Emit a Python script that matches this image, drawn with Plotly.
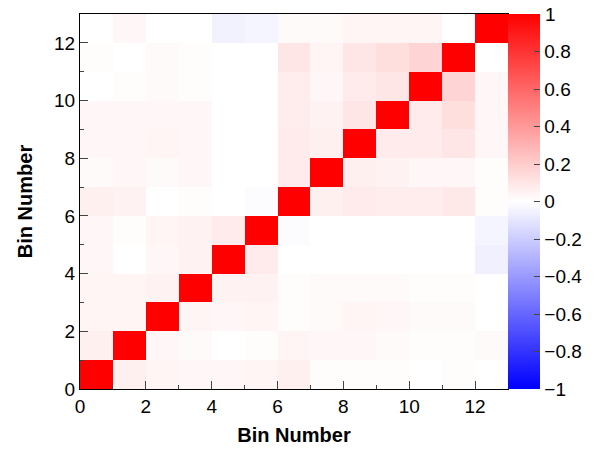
import plotly.graph_objects as go

bins = list(range(13))
rows = [
 [1,0.06,0.04,0.03,0.03,0.04,0.06,0.01,0.01,0.01,0,0.01,0],
 [0.06,1,0.03,0.02,0,0.01,0.04,0.03,0.03,0.02,0.01,0.01,0.02],
 [0.04,0.04,1,0.04,0.03,0.04,0.01,0.02,0.04,0.03,0.02,0.02,0],
 [0.04,0.04,0.05,1,0.05,0.05,0.01,0.02,0.02,0.02,0.01,0.01,0],
 [0.03,0,0.03,0.05,1,0.08,0,0,0,0,0,0,-0.06],
 [0.03,0.01,0.04,0.05,0.08,1,-0.01,0,0,0,0,0,-0.04],
 [0.06,0.05,0,0.01,0,-0.01,1,0.06,0.08,0.07,0.07,0.09,0.01],
 [0.02,0.03,0.02,0.03,0,0,0.08,1,0.06,0.05,0.03,0.03,0.01],
 [0.03,0.03,0.04,0.03,0,0,0.08,0.06,1,0.08,0.08,0.1,0.03],
 [0.03,0.03,0.03,0.03,0,0,0.07,0.05,0.1,1,0.08,0.13,0.03],
 [0,0.01,0.02,0.01,0,0,0.07,0.03,0.08,0.1,1,0.17,0.03],
 [0.01,0,0.02,0.01,0,0,0.1,0.04,0.1,0.13,0.17,1,0],
 [0,0.03,0,0,-0.05,-0.04,0.02,0.02,0.04,0.04,0.04,0,1],
]
cb_ticks = [-1,-0.8,-0.6,-0.4,-0.2,0,0.2,0.4,0.6,0.8,1]
cb_text = ["\u22121","\u22120.8","\u22120.6","\u22120.4","\u22120.2","0","0.2","0.4","0.6","0.8","1"]

fig = go.Figure(go.Heatmap(
    z=rows, x=[b+0.5 for b in bins], y=[b+0.5 for b in bins],
    zmin=-1, zmax=1,
    colorscale=[[0,"#0000ff"],[0.5,"#ffffff"],[1,"#ff0000"]],
    colorbar=dict(thickness=32, thicknessmode="pixels", len=1, x=500/606, xref="container",
                  xanchor="left", xpad=0, y=0.5, ypad=0,
                  tickvals=cb_ticks, ticktext=cb_text,
                  ticks="inside", ticklen=6, outlinewidth=0,
                  tickfont=dict(size=19)),
))
fig.add_annotation(x=(535-72)/428, y=1, xref="paper", yref="paper", text=cb_text[-1],
                   showarrow=False, xanchor="left", yanchor="middle", font=dict(size=19))
ax = dict(range=[0,13], tickvals=[0,2,4,6,8,10,12], ticks="inside", ticklen=8,
          showgrid=False, zeroline=False, showline=True, linecolor="black",
          mirror=True, tickfont=dict(size=19), automargin=False,
          minor=dict(ticks="inside", ticklen=4, dtick=1))
fig.update_layout(
    width=606, height=452, plot_bgcolor="white", paper_bgcolor="white",
    font=dict(family="Liberation Sans, Arial", color="black"),
    margin=dict(l=72, r=106, t=6, b=71),
    xaxis=dict(ax, title=dict(text="<b>Bin Number</b>", font=dict(size=20), standoff=12)),
    yaxis=dict(ax, title=dict(text="<b>Bin Number</b>", font=dict(size=20), standoff=16)),
)
fig.write_html("out.html")
